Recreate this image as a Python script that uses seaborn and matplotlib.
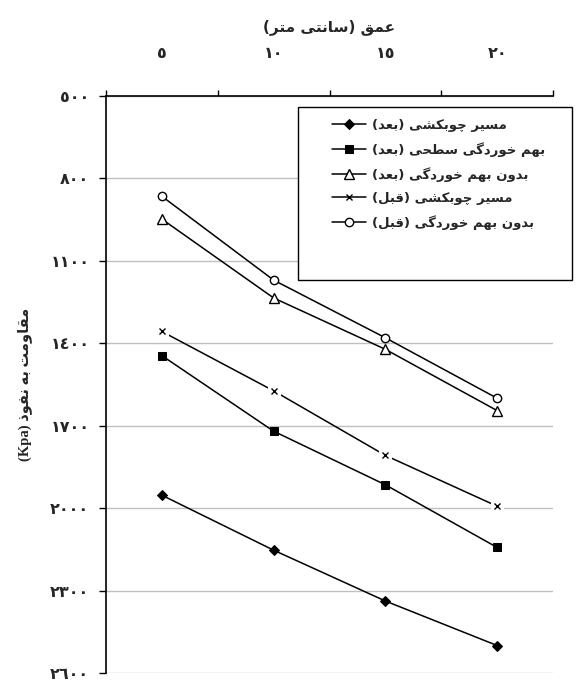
import re
import matplotlib
matplotlib.use("Agg")
import matplotlib.pyplot as plt
from matplotlib.patches import Rectangle
import seaborn as sns
import pandas as pd

# ---------------- data ----------------
depths = ["٥", "١٠", "١٥", "٢٠"]
xlabel_text = "عمق (سانتی متر)"
ylabel_text = "مقاومت به نفوذ (Kpa)"
yticks = [500, 800, 1100, 1400, 1700, 2000, 2300, 2600]
ytick_labels = ["٥٠٠", "٨٠٠", "١١٠٠", "١٤٠٠", "١٧٠٠", "٢٠٠٠", "٢٣٠٠", "٢٦٠٠"]

series_names = [
    "مسیر چوبکشی (بعد)",
    "بهم خوردگی سطحی (بعد)",
    "بدون بهم خوردگی (بعد)",
    "مسیر چوبکشی (قبل)",
    "بدون بهم خوردگی (قبل)",
]
skid_after = [1953, 2153, 2338, 2500]
surface_after = [1445, 1720, 1915, 2143]
undist_after = [948, 1235, 1422, 1645]
skid_before = [1357, 1573, 1808, 1993]
undist_before = [865, 1170, 1380, 1600]
series_values = [skid_after, surface_after, undist_after, skid_before, undist_before]

# ---------------- minimal Arabic/Persian shaping ----------------
FORMS = {  # iso, fin, ini, med
    "ا": ("\uFE8D", "\uFE8E", None, None),
    "ب": ("\uFE8F", "\uFE90", "\uFE91", "\uFE92"),
    "ت": ("\uFE95", "\uFE96", "\uFE97", "\uFE98"),
    "ح": ("\uFEA1", "\uFEA2", "\uFEA3", "\uFEA4"),
    "خ": ("\uFEA5", "\uFEA6", "\uFEA7", "\uFEA8"),
    "د": ("\uFEA9", "\uFEAA", None, None),
    "ذ": ("\uFEAB", "\uFEAC", None, None),
    "ر": ("\uFEAD", "\uFEAE", None, None),
    "س": ("\uFEB1", "\uFEB2", "\uFEB3", "\uFEB4"),
    "ش": ("\uFEB5", "\uFEB6", "\uFEB7", "\uFEB8"),
    "ط": ("\uFEC1", "\uFEC2", "\uFEC3", "\uFEC4"),
    "ع": ("\uFEC9", "\uFECA", "\uFECB", "\uFECC"),
    "ف": ("\uFED1", "\uFED2", "\uFED3", "\uFED4"),
    "ق": ("\uFED5", "\uFED6", "\uFED7", "\uFED8"),
    "ل": ("\uFEDD", "\uFEDE", "\uFEDF", "\uFEE0"),
    "م": ("\uFEE1", "\uFEE2", "\uFEE3", "\uFEE4"),
    "ن": ("\uFEE5", "\uFEE6", "\uFEE7", "\uFEE8"),
    "ه": ("\uFEE9", "\uFEEA", "\uFEEB", "\uFEEC"),
    "و": ("\uFEED", "\uFEEE", None, None),
    "ی": ("\uFBFC", "\uFBFD", "\uFBFE", "\uFBFF"),
    "چ": ("\uFB7A", "\uFB7B", "\uFB7C", "\uFB7D"),
    "ک": ("\uFB8E", "\uFB8F", "\uFB90", "\uFB91"),
    "گ": ("\uFB92", "\uFB93", "\uFB94", "\uFB95"),
}


def shape(text):
    out = []
    n = len(text)
    for i, ch in enumerate(text):
        if ch not in FORMS:
            out.append(ch)
            continue
        f = FORMS[ch]
        dual = f[2] is not None
        prev = text[i - 1] if i > 0 else ""
        nxt = text[i + 1] if i + 1 < n else ""
        pj = prev in FORMS and FORMS[prev][2] is not None
        nj = nxt in FORMS
        if pj and nj and dual:
            out.append(f[3])
        elif pj:
            out.append(f[1])
        elif nj and dual:
            out.append(f[2])
        else:
            out.append(f[0])
    s = "".join(out)
    tokens = re.findall(r"[A-Za-z0-9]+|.", s)
    mirror = {"(": ")", ")": "("}
    tokens = [mirror.get(t, t) for t in reversed(tokens)]
    return "".join(tokens)


# ---------------- plot ----------------
sns.set_style("white")
plt.rcParams["font.family"] = ["DejaVu Sans"]
plt.rcParams["font.weight"] = "bold"

fig = plt.figure(figsize=(5.76, 6.81), dpi=100)
W, H = 576, 681
AX_L, AX_R, AX_T, AX_B = 106, 553, 96, 673
ax = fig.add_axes([AX_L / W, 1 - AX_B / H, (AX_R - AX_L) / W, (AX_B - AX_T) / H])

styles = [
    dict(marker="D", ms=5.0, mfc="black", mec="black"),
    dict(marker="s", ms=5.5, mfc="black", mec="black"),
    dict(marker="^", ms=6.5, mfc="white", mec="black", mew=1.0),
    dict(marker="x", ms=5.0, mfc="black", mec="black", mew=1.0),
    dict(marker="o", ms=6.0, mfc="white", mec="black", mew=1.0),
]

for name, vals, st in zip(series_names, series_values, styles):
    df = pd.DataFrame({"depth": depths, "value": vals})
    sns.lineplot(data=df, x="depth", y="value", ax=ax, color="black",
                 linewidth=1.1, label=shape(name), sort=False, **st)
    if st["marker"] == "x":
        # white gap around the x markers (as in the original)
        sns.lineplot(data=df, x="depth", y="value", ax=ax, color="white",
                     linestyle="", marker="s", ms=8.5, mfc="white", mec="white",
                     label="_gap", sort=False)
        sns.lineplot(data=df, x="depth", y="value", ax=ax, color="black",
                     linestyle="", label="_xm", sort=False, **st)

ax.set_xlim(-0.5, 3.5)
ax.set_ylim(2600, 500)
ax.set_yticks(yticks)
ax.set_yticklabels(ytick_labels, fontweight="bold", fontsize=11.5)
ax.grid(axis="y", color="#c0c0c0", linewidth=1.0)
ax.grid(axis="x", visible=False)
ax.set_axisbelow(True)

ax.xaxis.tick_top()
ax.xaxis.set_label_position("top")
ax.set_xticks(range(len(depths)))
ax.set_xticklabels(depths, fontweight="bold", fontsize=11.5)
ax.set_xticks([i - 0.5 for i in range(len(depths) + 1)], minor=True)
ax.tick_params(axis="x", which="major", length=0, pad=25)
ax.tick_params(axis="x", which="minor", top=True, bottom=False, length=4,
               width=1, color="black", direction="out")
ax.tick_params(axis="y", which="major", left=True, length=5, width=1,
               color="black", direction="out", pad=7)

for side in ["right", "bottom"]:
    ax.spines[side].set_visible(False)
for side in ["left", "top"]:
    ax.spines[side].set_visible(True)
    ax.spines[side].set_color("black")
    ax.spines[side].set_linewidth(1.2)

ax.set_xlabel(shape(xlabel_text), fontsize=11, fontweight="bold", labelpad=11)
ax.set_ylabel(shape(ylabel_text), fontsize=10.5, fontweight="bold",
              family=["Liberation Serif", "DejaVu Sans"])
ax.yaxis.set_label_coords((32 - AX_L) / (AX_R - AX_L), 0.5)

leg = ax.legend(loc="upper left",
                bbox_to_anchor=((332 - AX_L) / (AX_R - AX_L), (AX_B - 119) / (AX_B - AX_T)),
                frameon=False, borderaxespad=0, borderpad=0, handlelength=2.6,
                handletextpad=0.4, labelspacing=0.76,
                prop={"weight": "bold", "size": 9.5})
frame = Rectangle((298 / W, 1 - 280 / H), (572 - 298) / W, (280 - 107) / H,
                  transform=fig.transFigure, fill=True, facecolor="white",
                  edgecolor="black", linewidth=1.0, zorder=2)
ax.add_artist(frame)
frame.set_clip_on(False)
leg.set_zorder(5)

fig.savefig("out.png", dpi=100)
